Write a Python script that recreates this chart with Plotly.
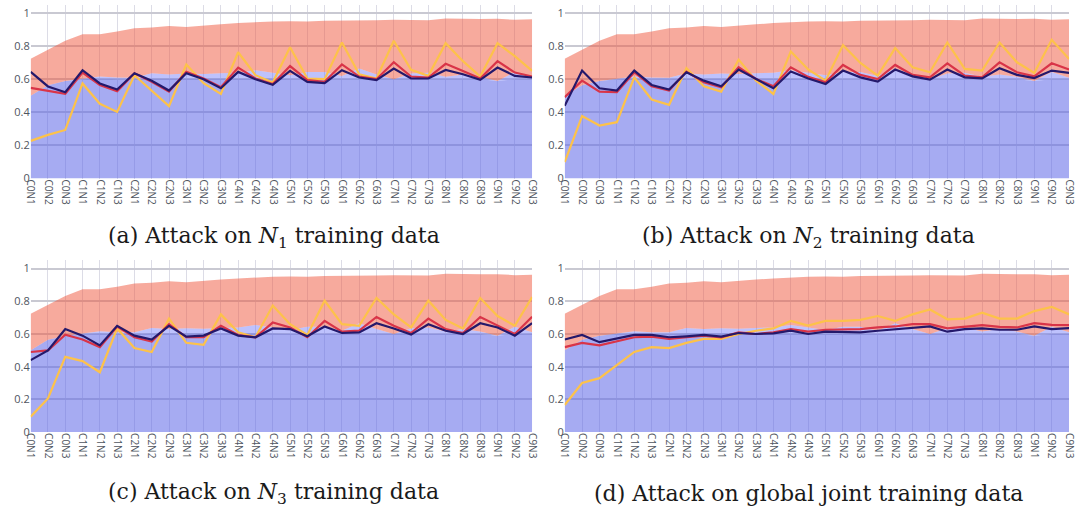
import plotly.graph_objects as go

# Categories: class C0..C9, each evaluated on nodes N1..N3
categories = [f"C{c}N{n}" for c in range(10) for n in range(1, 4)]

# Shaded reference bands (shared by every panel)
band_low = [0.50, 0.565, 0.59, 0.60, 0.605, 0.60, 0.60, 0.605, 0.605, 0.605,
            0.605, 0.605, 0.605, 0.605, 0.605, 0.60, 0.60, 0.60, 0.60, 0.60,
            0.60, 0.60, 0.60, 0.60, 0.60, 0.60, 0.60, 0.59, 0.60, 0.60]
band_mid = [0.50, 0.565, 0.59, 0.605, 0.617, 0.611, 0.61, 0.637, 0.63, 0.635,
            0.632, 0.637, 0.64, 0.655, 0.64, 0.625, 0.645, 0.645, 0.62, 0.665,
            0.63, 0.60, 0.635, 0.64, 0.615, 0.63, 0.615, 0.59, 0.645, 0.61]
band_high = [0.724, 0.78, 0.833, 0.873, 0.873, 0.889, 0.909, 0.913, 0.923, 0.917,
             0.923, 0.933, 0.94, 0.946, 0.95, 0.952, 0.95, 0.955, 0.955, 0.955,
             0.958, 0.96, 0.96, 0.958, 0.968, 0.965, 0.965, 0.966, 0.96, 0.963]

# (a) attack on N1 training data
a_yellow = [0.228, 0.264, 0.294, 0.575, 0.452, 0.403, 0.625, 0.532, 0.438, 0.69,
            0.577, 0.512, 0.764, 0.625, 0.581, 0.794, 0.605, 0.601, 0.823, 0.631,
            0.605, 0.833, 0.657, 0.621, 0.819, 0.71, 0.617, 0.819, 0.74, 0.651]
a_red = [0.548, 0.532, 0.512, 0.641, 0.565, 0.528, 0.637, 0.585, 0.526, 0.645,
         0.605, 0.552, 0.671, 0.605, 0.571, 0.68, 0.595, 0.585, 0.69, 0.617,
         0.601, 0.704, 0.617, 0.611, 0.694, 0.651, 0.605, 0.71, 0.641, 0.617]
a_navy = [0.645, 0.557, 0.522, 0.655, 0.575, 0.538, 0.637, 0.591, 0.532, 0.637,
          0.601, 0.546, 0.645, 0.60, 0.567, 0.651, 0.585, 0.577, 0.655, 0.611,
          0.595, 0.665, 0.605, 0.605, 0.657, 0.631, 0.597, 0.671, 0.621, 0.611]

# (b) attack on N2 training data
b_yellow = [0.10, 0.378, 0.321, 0.341, 0.612, 0.478, 0.446, 0.667, 0.558, 0.526,
            0.719, 0.592, 0.512, 0.769, 0.66, 0.592, 0.807, 0.699, 0.622, 0.789,
            0.673, 0.643, 0.823, 0.663, 0.653, 0.823, 0.703, 0.639, 0.839, 0.723]
b_red = [0.492, 0.592, 0.526, 0.522, 0.643, 0.558, 0.532, 0.647, 0.582, 0.552,
         0.673, 0.602, 0.558, 0.673, 0.615, 0.582, 0.687, 0.627, 0.602, 0.687,
         0.627, 0.612, 0.697, 0.622, 0.612, 0.703, 0.643, 0.618, 0.697, 0.659]
b_navy = [0.44, 0.653, 0.546, 0.532, 0.653, 0.566, 0.538, 0.643, 0.592, 0.558,
          0.659, 0.602, 0.546, 0.647, 0.605, 0.572, 0.653, 0.612, 0.586, 0.659,
          0.618, 0.598, 0.659, 0.612, 0.606, 0.667, 0.627, 0.608, 0.653, 0.639]

# (c) attack on N3 training data
c_yellow = [0.094, 0.206, 0.46, 0.434, 0.366, 0.634, 0.514, 0.49, 0.694, 0.546,
            0.534, 0.72, 0.61, 0.58, 0.774, 0.66, 0.594, 0.804, 0.66, 0.65,
            0.82, 0.72, 0.64, 0.804, 0.686, 0.634, 0.82, 0.71, 0.65, 0.826]
c_red = [0.49, 0.50, 0.596, 0.566, 0.52, 0.646, 0.58, 0.554, 0.66, 0.58,
         0.58, 0.65, 0.594, 0.58, 0.67, 0.64, 0.58, 0.68, 0.614, 0.62,
         0.704, 0.65, 0.606, 0.694, 0.63, 0.606, 0.704, 0.65, 0.60, 0.706]
c_navy = [0.44, 0.50, 0.63, 0.59, 0.53, 0.65, 0.59, 0.566, 0.65, 0.584,
          0.59, 0.634, 0.59, 0.58, 0.634, 0.63, 0.586, 0.646, 0.606, 0.61,
          0.666, 0.634, 0.596, 0.66, 0.62, 0.60, 0.666, 0.64, 0.59, 0.666]

# (d) attack on global joint training data
d_yellow = [0.166, 0.30, 0.33, 0.41, 0.49, 0.52, 0.514, 0.546, 0.57, 0.57,
            0.60, 0.62, 0.634, 0.68, 0.652, 0.68, 0.68, 0.686, 0.71, 0.68,
            0.72, 0.75, 0.69, 0.694, 0.73, 0.694, 0.694, 0.74, 0.766, 0.72]
d_red = [0.52, 0.546, 0.53, 0.554, 0.58, 0.584, 0.57, 0.58, 0.59, 0.58,
         0.61, 0.60, 0.61, 0.63, 0.614, 0.626, 0.626, 0.63, 0.64, 0.646,
         0.66, 0.66, 0.634, 0.646, 0.654, 0.644, 0.64, 0.666, 0.656, 0.654]
d_navy = [0.566, 0.594, 0.55, 0.57, 0.594, 0.594, 0.58, 0.586, 0.594, 0.584,
          0.606, 0.60, 0.604, 0.62, 0.60, 0.614, 0.614, 0.61, 0.62, 0.63,
          0.64, 0.646, 0.614, 0.63, 0.634, 0.626, 0.626, 0.646, 0.63, 0.636]

panels = [
    ("(a) Attack on <i>N</i><sub>1</sub> training data", a_yellow, a_red, a_navy),
    ("(b) Attack on <i>N</i><sub>2</sub> training data", b_yellow, b_red, b_navy),
    ("(c) Attack on <i>N</i><sub>3</sub> training data", c_yellow, c_red, c_navy),
    ("(d) Attack on global joint training data", d_yellow, d_red, d_navy),
]

W, H = 1084, 518
x_domains = [(25 / W, 533 / W), (566 / W, 1077 / W)]
y_domains = [(1 - 181 / H, 1 - 5 / H), (1 - 438 / H, 1 - 264 / H)]
caption_x = [271 / W, 813 / W]
caption_y = [1 - 241 / H, 1 - 500 / H]

BLUE_LOW = "rgba(92,102,232,0.55)"
BLUE_MID = "rgba(99,110,250,0.42)"
SALMON = "rgba(239,85,59,0.5)"
YELLOW = "#fdc24a"
RED = "#d93448"
NAVY = "#24196b"

fig = go.Figure()
annotations = []
layout = {}

for k, (caption, yel, red, navy) in enumerate(panels):
    row, col = divmod(k, 2)
    suffix = "" if k == 0 else str(k + 1)
    xa, ya = "x" + suffix, "y" + suffix

    common = dict(x=categories, xaxis=xa, yaxis=ya, showlegend=False,
                  hoverinfo="skip", mode="lines")
    fig.add_trace(go.Scatter(y=band_low, fill="tozeroy", fillcolor=BLUE_LOW,
                             line=dict(width=0), **common))
    fig.add_trace(go.Scatter(y=band_mid, fill="tonexty", fillcolor=BLUE_MID,
                             line=dict(width=0), **common))
    fig.add_trace(go.Scatter(y=band_high, fill="tonexty", fillcolor=SALMON,
                             line=dict(width=0), **common))
    fig.add_trace(go.Scatter(y=yel, line=dict(color=YELLOW, width=2.2), **common))
    fig.add_trace(go.Scatter(y=red, line=dict(color=RED, width=2.2), **common))
    fig.add_trace(go.Scatter(y=navy, line=dict(color=NAVY, width=2.2), **common))

    layout["xaxis" + suffix] = dict(
        domain=list(x_domains[col]), anchor=ya, type="category",
        range=[0, len(categories) - 1], tickangle=90,
        tickfont=dict(family="Open Sans", size=10, color="#4f5560"),
        showgrid=True, gridcolor="#dcdce6", gridwidth=1,
        showline=False, zeroline=False, ticks="",
    )
    layout["yaxis" + suffix] = dict(
        domain=list(y_domains[row]), anchor=xa, range=[0, 1.05],
        tickvals=[0, 0.2, 0.4, 0.6, 0.8, 1],
        ticktext=["0", "0.2", "0.4", "0.6", "0.8", "1"],
        tickfont=dict(family="Open Sans", size=11, color="#4f5560"),
        showgrid=True, gridcolor="#c9c9d2", gridwidth=2,
        zeroline=False, showline=False, ticks="",
    )
    annotations.append(dict(
        text=caption, x=caption_x[col], y=caption_y[row],
        xref="paper", yref="paper", xanchor="center", yanchor="middle",
        showarrow=False,
        font=dict(family="DejaVu Serif", size=22, color="#1a1a1a"),
    ))

fig.update_layout(
    width=W, height=H,
    margin=dict(l=0, r=0, t=0, b=0),
    paper_bgcolor="white", plot_bgcolor="white",
    annotations=annotations,
    **layout,
)

fig.write_html("out.html")
